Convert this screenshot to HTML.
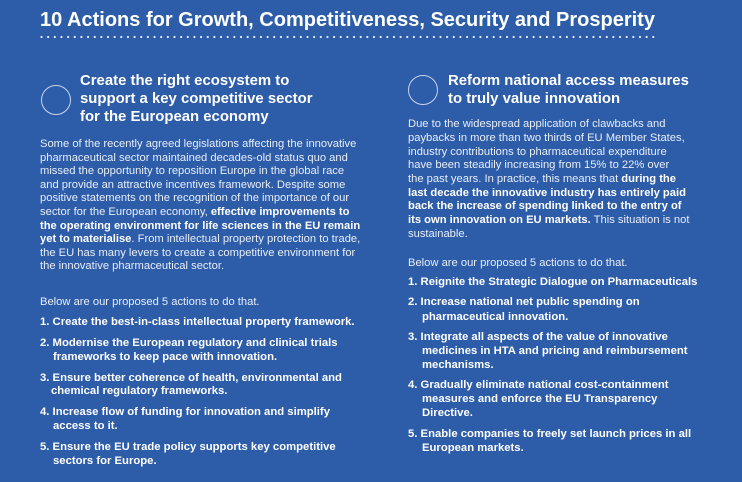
<!DOCTYPE html>
<html><head><meta charset="utf-8"><style>
body{margin:0;width:742px;height:482px;background:#2d5ca9;overflow:hidden;font-family:"Liberation Sans",sans-serif;color:#fff;position:relative}
div.l{position:absolute;white-space:nowrap;line-height:1}
.t{font-size:20px;font-weight:bold}
.h{font-size:14.9px;font-weight:bold}
.b{font-size:11.2px;color:#e8eef8}
.i{font-size:11.3px;font-weight:bold}
b{color:#fff}
.c{position:absolute;border:1.3px solid #c9d6ee;border-radius:50%;width:28px;height:28px}
</style></head><body>
<div class="l t" style="left:40px;top:10px">10 Actions for Growth, Competitiveness, Security and Prosperity</div>
<svg style="position:absolute;left:40px;top:35px" width="620" height="4"><line x1="1.5" y1="2" x2="618" y2="2" stroke="#e6ecf7" stroke-width="2.2" stroke-linecap="round" stroke-dasharray="0 6.65"/></svg>

<div class="c" style="left:41px;top:85px"></div>
<div class="l h" style="left:80px;top:74px">Create the right ecosystem to</div>
<div class="l h" style="left:80px;top:92px">support a key competitive sector</div>
<div class="l h" style="left:80px;top:110px">for the European economy</div>
<div class="l b" style="left:40px;top:139px">Some of the recently agreed legislations affecting the innovative</div>
<div class="l b" style="left:40px;top:152.6px">pharmaceutical sector maintained decades-old status quo and</div>
<div class="l b" style="left:40px;top:166.2px">missed the opportunity to reposition Europe in the global race</div>
<div class="l b" style="left:40px;top:179.8px">and provide an attractive incentives framework. Despite some</div>
<div class="l b" style="left:40px;top:193.4px">positive statements on the recognition of the importance of our</div>
<div class="l b" style="left:40px;top:207px">sector for the European economy, <b>effective improvements to</b></div>
<div class="l b" style="left:40px;top:220.6px"><b>the operating environment for life sciences in the EU remain</b></div>
<div class="l b" style="left:40px;top:234.2px"><b>yet to materialise</b>. From intellectual property protection to trade,</div>
<div class="l b" style="left:40px;top:247.8px">the EU has many levers to create a competitive environment for</div>
<div class="l b" style="left:40px;top:261.4px">the innovative pharmaceutical sector.</div>
<div class="l b" style="left:40px;top:297px">Below are our proposed 5 actions to do that.</div>
<div class="l i" style="left:40px;top:317px">1. Create the best-in-class intellectual property framework.</div>
<div class="l i" style="left:40px;top:338px">2. Modernise the European regulatory and clinical trials</div>
<div class="l i" style="left:53px;top:352px">frameworks to keep pace with innovation.</div>
<div class="l i" style="left:40px;top:373px">3. Ensure better coherence of health, environmental and</div>
<div class="l i" style="left:51px;top:386px">chemical regulatory frameworks.</div>
<div class="l i" style="left:40px;top:407px">4. Increase flow of funding for innovation and simplify</div>
<div class="l i" style="left:53px;top:421px">access to it.</div>
<div class="l i" style="left:40px;top:442px">5. Ensure the EU trade policy supports key competitive</div>
<div class="l i" style="left:53px;top:456px">sectors for Europe.</div>

<div class="c" style="left:408px;top:75px"></div>
<div class="l h" style="left:448px;top:74px">Reform national access measures</div>
<div class="l h" style="left:448px;top:92px">to truly value innovation</div>
<div class="l b" style="left:408px;top:119px">Due to the widespread application of clawbacks and</div>
<div class="l b" style="left:408px;top:133px">paybacks in more than two thirds of EU Member States,</div>
<div class="l b" style="left:408px;top:146.5px">industry contributions to pharmaceutical expenditure</div>
<div class="l b" style="left:408px;top:160px">have been steadily increasing from 15% to 22% over</div>
<div class="l b" style="left:408px;top:174px">the past years. In practice, this means that <b>during the</b></div>
<div class="l b" style="left:408px;top:187.5px"><b>last decade the innovative industry has entirely paid</b></div>
<div class="l b" style="left:408px;top:201px"><b>back the increase of spending linked to the entry of</b></div>
<div class="l b" style="left:408px;top:215px"><b>its own innovation on EU markets.</b> This situation is not</div>
<div class="l b" style="left:408px;top:229px">sustainable.</div>
<div class="l b" style="left:408px;top:258px">Below are our proposed 5 actions to do that.</div>
<div class="l i" style="left:408px;top:277px">1. Reignite the Strategic Dialogue on Pharmaceuticals</div>
<div class="l i" style="left:408px;top:297px">2. Increase national net public spending on</div>
<div class="l i" style="left:422px;top:312px">pharmaceutical innovation.</div>
<div class="l i" style="left:408px;top:332px">3. Integrate all aspects of the value of innovative</div>
<div class="l i" style="left:422px;top:346px">medicines in HTA and pricing and reimbursement</div>
<div class="l i" style="left:422px;top:360px">mechanisms.</div>
<div class="l i" style="left:408px;top:380px">4. Gradually eliminate national cost-containment</div>
<div class="l i" style="left:422px;top:394px">measures and enforce the EU Transparency</div>
<div class="l i" style="left:422px;top:408px">Directive.</div>
<div class="l i" style="left:408px;top:429px">5. Enable companies to freely set launch prices in all</div>
<div class="l i" style="left:422px;top:443px">European markets.</div>
</body></html>
